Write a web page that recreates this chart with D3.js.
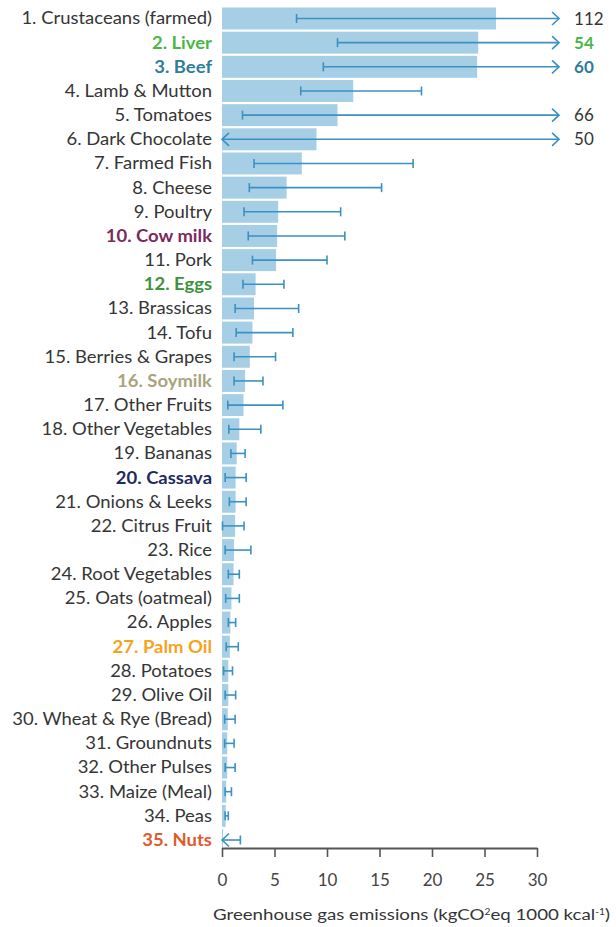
<!DOCTYPE html>
<html>
<head>
<meta charset="utf-8">
<script src="https://cdn.jsdelivr.net/npm/d3@7"></script>
<style>
  html, body { margin: 0; padding: 0; background: #fff; }
  svg { display: block; }
  text { font-family: Lato, "Noto Sans", sans-serif; }
</style>
</head>
<body>
<svg id="chart" width="616" height="927"></svg>
<script>
// Foods ranked by greenhouse gas emissions per 1000 kcal
const foods = [
  "1. Crustaceans (farmed)", "2. Liver", "3. Beef", "4. Lamb & Mutton", "5. Tomatoes",
  "6. Dark Chocolate", "7. Farmed Fish", "8. Cheese", "9. Poultry", "10. Cow milk",
  "11. Pork", "12. Eggs", "13. Brassicas", "14. Tofu", "15. Berries & Grapes",
  "16. Soymilk", "17. Other Fruits", "18. Other Vegetables", "19. Bananas", "20. Cassava",
  "21. Onions & Leeks", "22. Citrus Fruit", "23. Rice", "24. Root Vegetables", "25. Oats (oatmeal)",
  "26. Apples", "27. Palm Oil", "28. Potatoes", "29. Olive Oil", "30. Wheat & Rye (Bread)",
  "31. Groundnuts", "32. Other Pulses", "33. Maize (Meal)", "34. Peas", "35. Nuts"
];

// Central estimate (bar length)
const emissions = [
  26.1, 24.4, 24.3, 12.5, 11.0, 9.0, 7.6, 6.15, 5.35, 5.25,
  5.15, 3.2, 3.05, 2.9, 2.65, 2.2, 2.05, 1.65, 1.4, 1.3,
  1.3, 1.25, 1.15, 1.1, 0.9, 0.8, 0.75, 0.6, 0.6, 0.55,
  0.5, 0.5, 0.4, 0.35, 0.1
];

// Lower end of the range
const lowerBound = [
  7.1, 11.0, 9.65, 7.5, 1.95, -1.5, 3.05, 2.6, 2.1, 2.5,
  2.9, 2.0, 1.25, 1.35, 1.15, 1.15, 0.55, 0.65, 0.85, 0.3,
  0.7, 0.05, 0.3, 0.6, 0.35, 0.6, 0.4, 0.15, 0.3, 0.25,
  0.25, 0.3, 0.3, 0.3, -0.3
];

// Upper end of the range
const upperBound = [
  112, 54, 60, 19.0, 66, 50, 18.2, 15.2, 11.3, 11.7,
  10.0, 5.9, 7.3, 6.75, 5.1, 3.9, 5.8, 3.7, 2.2, 2.3,
  2.3, 2.1, 2.75, 1.65, 1.65, 1.3, 1.55, 1.0, 1.3, 1.25,
  1.15, 1.25, 0.9, 0.6, 1.75
];

// Highlighted foods and their label colours
const highlightColors = {
  "2. Liver": "#4cb748",
  "3. Beef": "#2f7d9c",
  "10. Cow milk": "#7a2a5c",
  "12. Eggs": "#3f9140",
  "16. Soymilk": "#a9a47c",
  "20. Cassava": "#1f2b5e",
  "27. Palm Oil": "#f7a21b",
  "35. Nuts": "#e05a2b"
};

const axisTicks = [0, 5, 10, 15, 20, 25, 30];
const axisMax = 30;
const clipMax = 32.1;   // ranges beyond the axis end in an arrow here
const clipMin = 0;      // ranges below zero end in an arrow here

const barColor = "#a6cfe6";
const rangeColor = "#3a91c2";
const textColor = "#353535";
const wide = 1.12;      // horizontal stretch of the lettering

const svg = d3.select("#chart");

const x = d3.scaleLinear().domain([0, axisMax]).range([222, 537]);
const y = d3.scaleBand().domain(foods).range([7.5, 851]).paddingInner(0.09).paddingOuter(0);

const rows = foods.map((f, i) => ({
  name: f, value: emissions[i], lo: lowerBound[i], hi: upperBound[i],
  color: highlightColors[f] || textColor, bold: !!highlightColors[f]
}));

const cy = d => y(d.name) + y.bandwidth() / 2;

// Bars
svg.append("g").selectAll("rect").data(rows).join("rect")
  .attr("x", x(0))
  .attr("y", d => y(d.name))
  .attr("width", d => x(d.value) - x(0))
  .attr("height", y.bandwidth())
  .attr("fill", barColor);

// Range lines
const ranges = svg.append("g")
  .attr("stroke", rangeColor)
  .attr("stroke-width", 1.6)
  .attr("fill", "none");

rows.forEach(d => {
  const lo = Math.max(d.lo, clipMin);
  const hi = Math.min(d.hi, clipMax);
  const yy = cy(d);
  const g = ranges.append("g");
  g.append("line").attr("x1", x(lo)).attr("x2", x(hi)).attr("y1", yy).attr("y2", yy);
  const cap = 4.5;
  if (d.lo < clipMin) {
    g.append("path").attr("d", `M${x(lo) + 7},${yy - 6.5}L${x(lo)},${yy}L${x(lo) + 7},${yy + 6.5}`);
  } else {
    g.append("line").attr("x1", x(lo)).attr("x2", x(lo)).attr("y1", yy - cap).attr("y2", yy + cap);
  }
  if (d.hi > clipMax) {
    g.append("path").attr("d", `M${x(hi) - 7},${yy - 6.5}L${x(hi)},${yy}L${x(hi) - 7},${yy + 6.5}`);
  } else {
    g.append("line").attr("x1", x(hi)).attr("x2", x(hi)).attr("y1", yy - cap).attr("y2", yy + cap);
  }
});

// Values of ranges that run off the axis
svg.append("g").selectAll("text").data(rows.filter(d => d.hi > clipMax)).join("text")
  .attr("x", x(clipMax) + 15)
  .attr("y", d => cy(d))
  .attr("dy", "0.36em")
  .attr("font-size", 17)
  .attr("font-weight", d => d.bold ? 700 : 400)
  .attr("fill", d => d.color)
  .text(d => d.hi);

// Food labels
svg.append("g").selectAll("text").data(rows).join("text")
  .attr("transform", d => `translate(212,${cy(d)}) scale(${wide},1)`)
  .attr("dy", "0.36em")
  .attr("text-anchor", "end")
  .attr("font-size", 16.5)
  .attr("font-weight", d => d.bold ? 700 : 400)
  .attr("fill", d => d.color)
  .text(d => d.name);

// Axis
const axis = svg.append("g")
  .attr("transform", "translate(0,848)")
  .call(d3.axisBottom(x).tickValues(axisTicks).tickSize(9).tickSizeOuter(0).tickPadding(17));
axis.select(".domain").attr("stroke", "#555").attr("stroke-width", 2);
axis.selectAll(".tick line").attr("stroke", "#555").attr("stroke-width", 1.6);
axis.selectAll(".tick text")
  .attr("font-family", "Lato, 'Noto Sans', sans-serif")
  .attr("font-size", 17)
  .attr("fill", "#444");

// Axis title
const title = svg.append("text")
  .attr("transform", `translate(213,920) scale(1.205,1)`)
  .attr("font-size", 15.5)
  .attr("fill", "#353535");
title.append("tspan").text("Greenhouse gas emissions (kgCO");
title.append("tspan").attr("font-size", 8.5).attr("dy", -5.5).text("2");
title.append("tspan").attr("dy", 5.5).text("eq 1000 kcal");
title.append("tspan").attr("font-size", 8.5).attr("dy", -5.5).text("-1");
title.append("tspan").attr("dy", 5.5).text(")");
</script>
</body>
</html>
